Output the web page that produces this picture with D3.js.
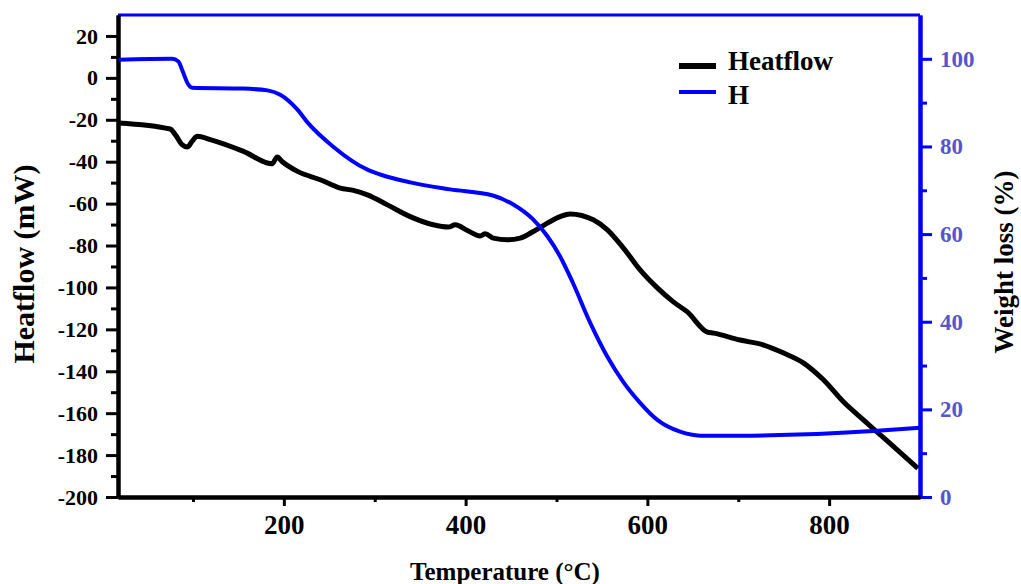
<!DOCTYPE html>
<html>
<head>
<meta charset="utf-8">
<script src="https://cdn.jsdelivr.net/npm/d3@7"></script>
<style>
  body { margin: 0; background: #fff; }
  svg text { font-family: "Liberation Serif", "Times New Roman", serif; font-weight: bold; }
</style>
</head>
<body>
<svg id="chart" width="1021" height="584"></svg>
<script>
'use strict';

// temperature (°C) for each series
const heatTemp = [18, 75, 80.5, 88, 93.7, 99, 104.7, 119, 155.6, 187, 192.7, 198, 215, 240, 262, 276.5,
  292, 314, 339, 364.4, 381, 388.6, 402, 416, 421.7, 430.5, 446, 460, 474.5, 490, 504, 515, 540.5,
  556, 573.5, 592, 611, 628.6, 644, 666, 673, 702, 728, 750, 772, 794, 816, 838, 853, 875.6, 897.6];
const heatflow = [-21.5, -24.4, -27.1, -31.9, -33.0, -30.3, -27.9, -29.5, -35.1, -41.0, -37.8, -39.9,
  -44.6, -48.6, -52.6, -53.7, -55.8, -60.6, -66.2, -70.1, -71.2, -70.1, -72.8, -75.4, -74.4, -76.5,
  -77.3, -76.5, -73.3, -69.3, -66.2, -64.9, -67.7, -72.5, -81.1, -91.6, -100.2, -106.9, -111.7,
  -121.3, -121.8, -125.1, -127.5, -131.3, -136.1, -144.2, -154.7, -163.3, -169.1, -177.7, -186.3];

const weightTemp = [18, 77, 84, 88, 95, 99, 155, 182, 196, 215, 226, 254, 292, 306, 339, 383, 430,
  452, 474, 490, 504, 518, 537, 556, 574, 592, 611, 636, 658, 702, 853, 900];
const weightLoss = [99.8, 100, 99.4, 97.5, 94.1, 93.4, 93.2, 92.8, 91.8, 88.4, 85.5, 80.0, 74.7, 73.6,
  71.8, 70.2, 68.8, 66.8, 63.4, 59.5, 54.9, 48.9, 39.8, 32.0, 26.1, 21.5, 17.6, 14.9, 14.0, 14.0,
  15.1, 15.8];

const xMajor = [200, 400, 600, 800];
const xMinor = [100, 300, 500, 700];
const leftMajor = [20, 0, -20, -40, -60, -80, -100, -120, -140, -160, -180, -200];
const leftMinor = [10, -10, -30, -50, -70, -90, -110, -130, -150, -170, -190];
const rightMajor = [0, 20, 40, 60, 80, 100];
const rightMinor = [10, 30, 50, 70, 90];

const svg = d3.select('#chart');
const plotLeft = 118, plotRight = 920, plotTop = 15, plotBottom = 497;

const x = d3.scaleLinear().domain([17.5, 900]).range([plotLeft, plotRight]);
const yL = d3.scaleLinear().domain([-200, 30]).range([plotBottom, plotTop]);
const yR = d3.scaleLinear().domain([0, 110]).range([plotBottom, plotTop]);

// top border (blue)
svg.append('line')
  .attr('x1', plotLeft).attr('x2', plotRight).attr('y1', plotTop).attr('y2', plotTop)
  .attr('stroke', '#0000ff').attr('stroke-width', 3);

function styleAxis(g, color, width) {
  g.select('.domain').attr('stroke', color).attr('stroke-width', width);
  g.selectAll('.tick line').attr('stroke', color).attr('stroke-width', 3);
}

const plain = d => String(d);

// left axis
const gL = svg.append('g').attr('transform', `translate(${plotLeft},0)`);
gL.call(d3.axisLeft(yL).tickValues(leftMinor).tickSize(7).tickSizeOuter(0).tickFormat(''));
styleAxis(gL, '#000', 4);
const gL2 = svg.append('g').attr('transform', `translate(${plotLeft},0)`);
gL2.call(d3.axisLeft(yL).tickValues(leftMajor).tickSize(12).tickSizeOuter(0).tickPadding(8).tickFormat(plain));
styleAxis(gL2, '#000', 4);
gL2.selectAll('.tick text').attr('font-size', 22).attr('fill', '#000');

// right axis
const gR = svg.append('g').attr('transform', `translate(${plotRight},0)`);
gR.call(d3.axisRight(yR).tickValues(rightMinor).tickSize(7).tickSizeOuter(0).tickFormat(''));
styleAxis(gR, '#0000ff', 4);
const gR2 = svg.append('g').attr('transform', `translate(${plotRight},0)`);
gR2.call(d3.axisRight(yR).tickValues(rightMajor).tickSize(12).tickSizeOuter(0).tickPadding(8).tickFormat(plain));
styleAxis(gR2, '#0000ff', 4);
gR2.selectAll('.tick text').attr('font-size', 23).attr('fill', '#5555cc');

// bottom axis
const gB = svg.append('g').attr('transform', `translate(0,${plotBottom})`);
gB.call(d3.axisBottom(x).tickValues(xMinor).tickSize(5).tickSizeOuter(0).tickFormat(''));
styleAxis(gB, '#000', 4);
const gB2 = svg.append('g').attr('transform', `translate(0,${plotBottom})`);
gB2.call(d3.axisBottom(x).tickValues(xMajor).tickSize(9).tickSizeOuter(0).tickPadding(9).tickFormat(plain));
styleAxis(gB2, '#000', 4);
gB2.selectAll('.tick text').attr('font-size', 27).attr('fill', '#000');

// curves
const heatLine = d3.line()
  .x((d, i) => x(heatTemp[i]))
  .y(d => yL(d))
  .curve(d3.curveMonotoneX);
const weightLine = d3.line()
  .x((d, i) => x(weightTemp[i]))
  .y(d => yR(d))
  .curve(d3.curveMonotoneX);

svg.append('path').datum(heatflow)
  .attr('d', heatLine)
  .attr('fill', 'none').attr('stroke', '#000').attr('stroke-width', 5)
  .attr('stroke-linejoin', 'round');
svg.append('path').datum(weightLoss)
  .attr('d', weightLine)
  .attr('fill', 'none').attr('stroke', '#0000ff').attr('stroke-width', 4)
  .attr('stroke-linejoin', 'round');

// axis titles
svg.append('text')
  .attr('transform', 'translate(34,264) rotate(-90)')
  .attr('text-anchor', 'middle').attr('font-size', 30)
  .text('Heatflow (mW)');
svg.append('text')
  .attr('transform', 'translate(1013,262) rotate(-90)')
  .attr('text-anchor', 'middle').attr('font-size', 27)
  .text('Weight loss (%)');
svg.append('text')
  .attr('x', 505).attr('y', 580)
  .attr('text-anchor', 'middle').attr('font-size', 25)
  .text('Temperature (°C)');

// legend
const legend = [
  { name: 'Heatflow', color: '#000', width: 6, y: 66, ty: 70 },
  { name: 'H', color: '#0000ff', width: 4, y: 92, ty: 104 }
];
legend.forEach(l => {
  svg.append('line')
    .attr('x1', 679).attr('x2', 716).attr('y1', l.y).attr('y2', l.y)
    .attr('stroke', l.color).attr('stroke-width', l.width);
  svg.append('text')
    .attr('x', 728).attr('y', l.ty)
    .attr('font-size', 27)
    .text(l.name);
});
</script>
</body>
</html>
